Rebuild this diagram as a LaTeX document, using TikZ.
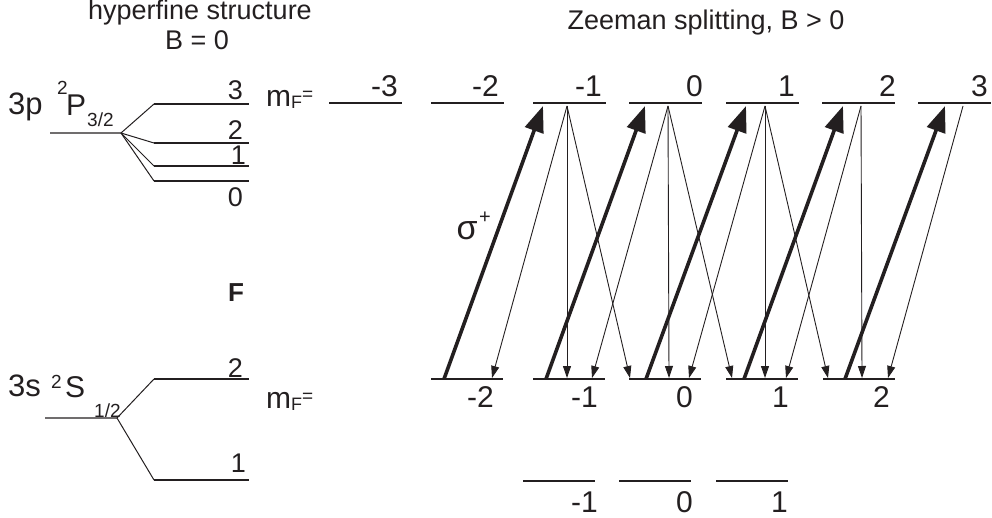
\documentclass[tikz,border=0pt]{standalone}
\usepackage{fontspec}
\setmainfont{Liberation Sans}
\usetikzlibrary{arrows.meta}
\definecolor{ink}{HTML}{231F20}
\begin{document}
\begin{tikzpicture}[x=1pt,y=-1pt,
  lvl/.style={draw=ink,line width=1.9pt},
  baseline/.style={draw=ink!65,line width=1.2pt},
  fan/.style={draw=ink,line width=1pt},
  pump/.style={draw=ink,line width=3.6pt,-{Triangle[length=26pt,width=19pt]}},
  decay/.style={draw=ink,line width=0.9pt,-{Triangle[length=12pt,width=8pt]}},
  lab/.style={text=ink,font=\fontsize{27}{30}\selectfont,inner sep=0pt},
  num/.style={text=ink,font=\fontsize{30}{32}\selectfont,inner sep=0pt},
  term/.style={text=ink,font=\fontsize{31}{33}\selectfont,inner sep=0pt},
  big/.style={text=ink,font=\fontsize{30}{32}\selectfont,inner sep=0pt},
  small/.style={text=ink,font=\fontsize{19}{20}\selectfont,inner sep=0pt},
]
\useasboundingbox (0,0) rectangle (992,518);

% titles
\node[lab,anchor=base] (t1) at (200,20) {hyperfine structure};
\node[lab,anchor=base] (t2) at (197,50) {B = 0};
\node[lab,anchor=base] (t3) at (706,30) {Zeeman splitting, B > 0};

% term labels
\node[term,anchor=base west] (p3) at (8,115) {3p};
\node[small,anchor=base west] (p2) at (57,95) {2};
\node[big,anchor=base west] (pP) at (66,116) {P};
\node[small,anchor=base west] (p32) at (87,127) {3/2};
\node[term,anchor=base west] (s3) at (8,396) {3s};
\node[small,anchor=base west] (s2) at (51,388) {2};
\node[big,anchor=base west] (sS) at (65,397) {S};
\node[small,anchor=base west] (s12) at (94,417) {1/2};

% hyperfine structure of 3p
\coordinate (pb0) at (50,133);
\coordinate (pb1) at (121,133);
\draw[baseline] (pb0) -- (pb1);
\foreach \n/\y in {3/104,2/143,1/166,0/181}{
  \coordinate (pF\n a) at (154,\y);
  \coordinate (pF\n b) at (249,\y);
  \draw[fan] (pb1) -- (pF\n a);
  \draw[lvl] (pF\n a) -- (pF\n b);
}
\node[lab,anchor=base east] (pl3) at (243,100) {3};
\node[lab,anchor=base east] (pl2) at (243,140) {2};
\node[lab,anchor=base east] (pl1) at (246,165) {1};
\node[lab,anchor=base east] (pl0) at (243,207) {0};

% hyperfine structure of 3s
\coordinate (sb0) at (45,418);
\coordinate (sb1) at (117,418);
\draw[baseline] (sb0) -- (sb1);
\foreach \n/\y in {2/379,1/480}{
  \coordinate (sF\n a) at (154,\y);
  \coordinate (sF\n b) at (249,\y);
  \draw[fan] (sb1) -- (sF\n a);
  \draw[lvl] (sF\n a) -- (sF\n b);
}
\node[lab,anchor=base east] (sl2) at (243,377) {2};
\node[lab,anchor=base east] (sl1) at (246,472) {1};

% F label
\node[lab,font=\fontsize{26}{30}\selectfont\bfseries] (Flab) at (236,293) {F};

% m_F = labels
\node[num,anchor=base west] (mfu) at (266,107) {m\raisebox{-2pt}{\fontsize{18}{18}\selectfont F}\raisebox{6pt}{\fontsize{19}{19}\selectfont =}};
\node[num,anchor=base west] (mfl) at (266,408) {m\raisebox{-2pt}{\fontsize{18}{18}\selectfont F}\raisebox{6pt}{\fontsize{19}{19}\selectfont =}};

% upper Zeeman levels (F=3)
\foreach \i/\xl/\t/\tx in {1/329/-3/398,2/431/-2/499,3/533/-1/602,4/629/0/703,5/726/1/795,6/822/2/896,7/918/3/988}{
  \coordinate (uL\i) at (\xl,103);
  \coordinate (uR\i) at (\xl+73,103);
  \draw[lvl] (uL\i) -- (uR\i);
  \node[num,anchor=base east] (ut\i) at (\tx,97) {\t};
}

% lower Zeeman levels (F=2)
\foreach \i/\xl/\t/\tx in {1/431/-2/494,2/533/-1/598,3/629/0/693,4/726/1/789,5/823/2/890}{
  \coordinate (lL\i) at (\xl,379);
  \coordinate (lR\i) at (\xl+72,379);
  \draw[lvl] (lL\i) -- (lR\i);
  \node[num,anchor=base east] (lt\i) at (\tx,407) {\t};
}

% bottom Zeeman levels (F=1)
\foreach \i/\xl/\t/\tx in {1/523/-1/598,2/619/0/693,3/716/1/788}{
  \coordinate (bL\i) at (\xl,481);
  \coordinate (bR\i) at (\xl+72,481);
  \draw[lvl] (bL\i) -- (bR\i);
  \node[num,anchor=base east] (bt\i) at (\tx,512) {\t};
}

% sigma+ pump arrows
\foreach \n/\xa/\xb in {1/444/543,2/546/645,3/646/746,4/744/843,5/845/945}{
  \coordinate (pa\n) at (\xa,379);
  \coordinate (pe\n) at (\xb,106);
  \draw[pump] (pa\n) -- (pe\n);
}
\node[text=ink,font=\fontsize{34}{36}\selectfont,inner sep=0pt] (sig) at (467,231) {σ};
\node[text=ink,font=\fontsize{20}{20}\selectfont,inner sep=0pt] (sigp) at (485,218) {+};

% spontaneous decay arrows
\foreach \n/\x in {a/567,b/668,c/765,d/861,e/963}{
  \coordinate (src\n) at (\x,106);
}
\foreach \n/\x in {1/492,2/567,3/630,4/592,5/669,6/732,7/689,8/765,9/828,10/786,11/862,12/888}{
  \coordinate (tg\n) at (\x,378);
}
\draw[decay] (srca) -- (tg1);
\draw[decay] (srca) -- (tg2);
\draw[decay] (srca) -- (tg3);
\draw[decay] (srcb) -- (tg4);
\draw[decay] (srcb) -- (tg5);
\draw[decay] (srcb) -- (tg6);
\draw[decay] (srcc) -- (tg7);
\draw[decay] (srcc) -- (tg8);
\draw[decay] (srcc) -- (tg9);
\draw[decay] (srcd) -- (tg10);
\draw[decay] (srcd) -- (tg11);
\draw[decay] (srce) -- (tg12);
\end{tikzpicture}
\end{document}
